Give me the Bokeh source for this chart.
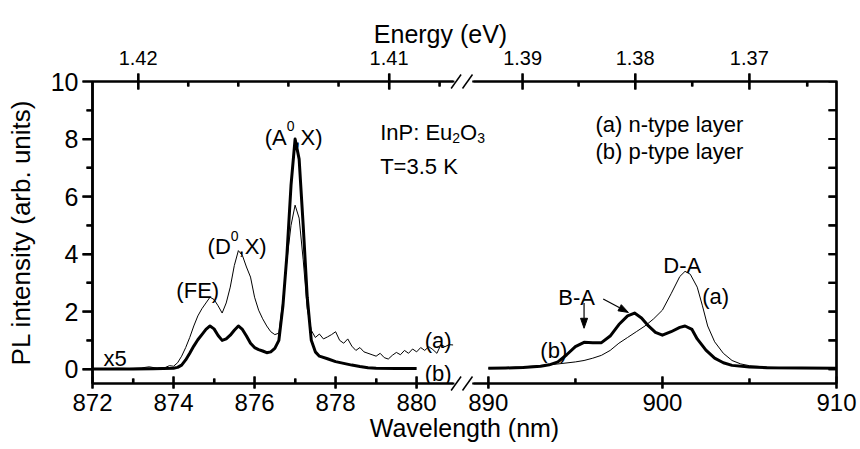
import numpy as np
from bokeh.plotting import figure
from bokeh.models import Range1d, LinearAxis, FixedTicker, Label
from bokeh.core.properties import value
from bokeh.embed import file_html
from bokeh.resources import INLINE

# ---------------- data ----------------
# left part (x5), curve (a) n-type, thin
wl_a_left = [872.0, 872.3, 872.6, 872.9, 873.2, 873.4, 873.6, 873.8, 873.9, 874.0,
             874.1, 874.2, 874.3, 874.4, 874.5, 874.6, 874.7, 874.8, 874.9, 875.0,
             875.1, 875.2, 875.3, 875.4, 875.5, 875.6, 875.7, 875.8, 875.9, 876.0,
             876.1, 876.2, 876.3, 876.4, 876.5, 876.6, 876.7, 876.8, 876.9, 877.0,
             877.1, 877.2, 877.3, 877.4, 877.5, 877.6, 877.7, 877.8, 877.9, 878.0,
             878.1, 878.2, 878.3, 878.4, 878.5, 878.6, 878.7, 878.8, 878.9, 879.0,
             879.1, 879.2, 879.3, 879.4, 879.5, 879.6, 879.7, 879.8, 879.9, 880.0,
             880.1, 880.2, 880.3, 880.4, 880.5, 880.6, 880.7, 880.8, 880.9]
int_a_left = [0.02, 0.01, 0.03, 0.02, 0.04, 0.08, 0.03, 0.06, 0.12, 0.10,
              0.22, 0.45, 0.75, 1.10, 1.50, 1.85, 2.10, 2.30, 2.50, 2.42,
              2.20, 1.95, 2.30, 2.85, 3.60, 4.12, 3.95, 3.55, 3.20, 2.50,
              2.05, 1.75, 1.50, 1.30, 1.20, 1.25, 2.40, 3.80, 5.00, 5.70,
              5.25, 3.80, 2.10, 1.35, 1.10, 1.22, 1.05, 1.12, 1.20, 1.30,
              1.00, 0.90, 1.05, 0.80, 0.65, 0.75, 0.60, 0.55, 0.50, 0.45,
              0.55, 0.40, 0.35, 0.48, 0.58, 0.50, 0.65, 0.55, 0.70, 0.60,
              0.75, 0.65, 0.78, 0.68, 0.55, 0.85, 0.78, 0.85, 0.84]
# left part (x5), curve (b) p-type, thick
wl_b_left = [872.0, 873.0, 873.5, 874.0, 874.1, 874.2, 874.3, 874.4, 874.5, 874.6,
             874.7, 874.8, 874.9, 875.0, 875.1, 875.2, 875.3, 875.4, 875.5, 875.6,
             875.7, 875.8, 875.9, 876.0, 876.1, 876.2, 876.3, 876.4, 876.5, 876.6,
             876.7, 876.8, 876.9, 877.0, 877.1, 877.2, 877.3, 877.4, 877.5, 877.6,
             877.8, 878.0, 878.2, 878.4, 878.6, 878.8, 879.0, 879.5, 880.0]
int_b_left = [0.00, 0.00, 0.01, 0.03, 0.06, 0.14, 0.32, 0.55, 0.80, 1.02,
              1.20, 1.38, 1.50, 1.40, 1.17, 1.00, 1.05, 1.18, 1.35, 1.50,
              1.38, 1.15, 0.90, 0.75, 0.68, 0.63, 0.57, 0.60, 0.72, 1.00,
              2.20, 4.00, 6.40, 8.00, 7.30, 5.00, 2.50, 1.00, 0.60, 0.45,
              0.36, 0.26, 0.20, 0.14, 0.09, 0.05, 0.03, 0.02, 0.02]
# right part, curve (a) n-type, thin
wl_a_right = [890, 891, 892, 893, 894, 895, 895.5, 896, 896.5, 897, 897.5, 898, 898.5,
              899, 899.5, 900, 900.5, 901, 901.3, 901.6, 902, 902.3, 902.6, 903,
              903.5, 904, 904.5, 905, 906, 907, 908, 909, 910]
int_a_right = [0.03, 0.05, 0.08, 0.12, 0.18, 0.25, 0.30, 0.38, 0.48, 0.65, 0.90, 1.10, 1.30,
               1.50, 1.75, 2.05, 2.62, 3.22, 3.40, 3.30, 2.85, 2.20, 1.50, 0.95,
               0.55, 0.30, 0.18, 0.12, 0.07, 0.05, 0.04, 0.03, 0.03]
# right part, curve (b) p-type, thick
wl_b_right = [890, 891, 892, 893, 893.5, 894, 894.5, 895, 895.5, 896, 896.5, 897, 897.5,
              898, 898.4, 898.8, 899.2, 899.6, 900, 900.5, 901, 901.3, 901.7, 902,
              902.5, 903, 903.5, 904, 905, 906, 908, 910]
int_b_right = [0.03, 0.04, 0.06, 0.10, 0.15, 0.25, 0.50, 0.78, 0.93, 0.92, 0.92, 1.15, 1.55,
               1.85, 1.95, 1.78, 1.50, 1.28, 1.18, 1.30, 1.45, 1.50, 1.38, 1.05,
               0.66, 0.38, 0.22, 0.13, 0.07, 0.05, 0.04, 0.03]

wl_major_left = [872, 874, 876, 878, 880]
wl_minor_left = [873, 875, 877, 879]
wl_major_right = [890, 900, 910]
wl_minor_right = [895, 905]
energy_major = [1.42, 1.41, 1.39, 1.38, 1.37]
energy_minor = [1.418, 1.416, 1.414, 1.412, 1.408, 1.385, 1.375, 1.365]
y_major = [0, 2, 4, 6, 8, 10]
y_minor = [1, 3, 5, 7, 9]
HC = 1239.84  # eV nm

# ---------------- broken wavelength axis ----------------
FRAME_W = 744
SEG_L = (872.0, 880.9)
SEG_R = (889.15, 910.0)
U_L = (0.0, 360.6)
U_R = (381.0, 744.0)
U_MID = (U_L[1] + U_R[0]) / 2


def xu(lam):
    lam = np.asarray(lam, dtype=float)
    left = U_L[0] + (lam - SEG_L[0]) * (U_L[1] - U_L[0]) / (SEG_L[1] - SEG_L[0])
    right = U_R[0] + (lam - SEG_R[0]) * (U_R[1] - U_R[0]) / (SEG_R[1] - SEG_R[0])
    return np.where(lam < (SEG_L[1] + SEG_R[0]) / 2, left, right)


def ticks(vals):
    return [round(float(v), 4) for v in np.atleast_1d(xu(vals))]


FONT = "Liberation Sans"
INK = "black"
Y0, Y1 = -0.5, 10.0
FRAME_H = 302
PX_Y = FRAME_H / (Y1 - Y0)
FRAME_LW = 2.2

# tick lengths in px: (in, out)
BOT_MAJ, BOT_MIN = (7, 5), (5, 0)
TOP_MAJ, TOP_MIN = (8, 8), (5, 0)
LEFT_MAJ, LEFT_MIN = (0, 10), (0, 6)
RIGHT_T = (8, 0)

p = figure(width=860, height=449, x_range=Range1d(0, FRAME_W), y_range=Range1d(Y0, Y1),
           output_backend="svg", toolbar_location=None,
           min_border_left=92, min_border_right=24, min_border_top=81, min_border_bottom=66,
           outline_line_color=INK, outline_line_width=FRAME_LW,
           background_fill_color="white", border_fill_color="white")
p.grid.visible = False

# curves
p.line(xu(wl_a_left), int_a_left, line_color=INK, line_width=1.0, line_join="round")
p.line(xu(wl_b_left), int_b_left, line_color=INK, line_width=3.0, line_join="round")
p.line(xu(wl_a_right), int_a_right, line_color=INK, line_width=1.0, line_join="round")
p.line(xu(wl_b_right), int_b_right, line_color=INK, line_width=3.0, line_join="round")

# right-side inward ticks
y_right = sorted(y_major + y_minor)
p.segment(x0=[FRAME_W - RIGHT_T[0]] * len(y_right), y0=y_right,
          x1=[FRAME_W - 0.5] * len(y_right), y1=y_right, line_color=INK, line_width=FRAME_LW)

# bottom axis (wavelength)
bx = p.below[0]
bmaj = ticks(wl_major_left + wl_major_right)
bmin = ticks(wl_minor_left + wl_minor_right)
bx.ticker = FixedTicker(ticks=bmaj, minor_ticks=bmin)
bx.major_label_overrides = {t: str(w) for t, w in zip(bmaj, wl_major_left + wl_major_right)}
bx.axis_label = "Wavelength (nm)"
bx.axis_label_text_font_size = "25px"
bx.axis_label_standoff = 0
bx.major_label_text_font_size = "24px"
bx.major_label_standoff = 5
bx.major_tick_in, bx.major_tick_out = BOT_MAJ
bx.minor_tick_in, bx.minor_tick_out = BOT_MIN

# left axis (intensity)
ly = p.left[0]
ly.ticker = FixedTicker(ticks=y_major, minor_ticks=y_minor)
ly.axis_label = "PL intensity (arb. units)"
ly.axis_label_text_font_size = "26px"
ly.axis_label_standoff = 12
ly.major_label_text_font_size = "25px"
ly.major_label_standoff = 4
ly.major_tick_in, ly.major_tick_out = LEFT_MAJ
ly.minor_tick_in, ly.minor_tick_out = LEFT_MIN

# top axis (energy)
tmaj = ticks([HC / e for e in energy_major])
tmin = ticks([HC / e for e in energy_minor])
top = LinearAxis(ticker=FixedTicker(ticks=tmaj, minor_ticks=tmin),
                 major_label_overrides={t: f"{e:.2f}" for t, e in zip(tmaj, energy_major)},
                 major_label_text_font_size="20px", major_label_standoff=9)
top.major_tick_in, top.major_tick_out = TOP_MAJ
top.minor_tick_in, top.minor_tick_out = TOP_MIN
p.add_layout(top, "above")

for ax in (bx, ly, top):
    ax.axis_line_color = None
    ax.major_tick_line_color = INK
    ax.minor_tick_line_color = INK
    ax.major_tick_line_width = 2
    ax.minor_tick_line_width = 2
    ax.major_label_text_color = INK
    ax.major_label_text_font = FONT
    ax.axis_label_text_color = INK
    ax.axis_label_text_font = FONT
    ax.axis_label_text_font_style = "normal"
ly.axis_line_color = INK
ly.axis_line_width = FRAME_LW


# ---- frame + ticks as two bracket-shaped paths (gaps at the axis break) ----
def hticks(us, yb, inward_sign, sizes):
    xs, ys = [], []
    for u, (tin, tout) in zip(us, sizes):
        xs += [u, u, u, u]
        ys += [yb, yb + inward_sign * tin / PX_Y, yb - inward_sign * tout / PX_Y, yb]
    return xs, ys


def merge(maj, mn, smaj, smin, keep, reverse=False):
    items = [(u, smaj) for u in maj if keep(u)] + [(u, smin) for u in mn if keep(u)]
    items.sort(key=lambda t: t[0], reverse=reverse)
    return [t[0] for t in items], [t[1] for t in items]


left_side = lambda u: u < U_MID
right_side = lambda u: u > U_MID

# left bracket
lx, lyy = [U_L[1]], [Y0]
us, sz = merge(bmaj, bmin, BOT_MAJ, BOT_MIN, left_side, reverse=True)
a, b = hticks(us, Y0, +1, sz); lx += a; lyy += b
lx.append(0); lyy.append(Y0)
yt = sorted([(v, LEFT_MAJ) for v in y_major] + [(v, LEFT_MIN) for v in y_minor])
for v, (tin, tout) in yt:
    lx += [0, -tout, 0]; lyy += [v, v, v]
lx.append(0); lyy.append(Y1)
us, sz = merge(tmaj, tmin, TOP_MAJ, TOP_MIN, left_side)
a, b = hticks(us, Y1, -1, sz); lx += a; lyy += b
lx.append(U_L[1]); lyy.append(Y1)

# right bracket
rx, ry = [U_R[0]], [Y0]
us, sz = merge(bmaj, bmin, BOT_MAJ, BOT_MIN, right_side)
a, b = hticks(us, Y0, +1, sz); rx += a; ry += b
rx.append(FRAME_W); ry.append(Y0)
for v in y_right:
    rx += [FRAME_W, FRAME_W - RIGHT_T[0], FRAME_W]; ry += [v, v, v]
rx.append(FRAME_W); ry.append(Y1)
us, sz = merge(tmaj, tmin, TOP_MAJ, TOP_MIN, right_side, reverse=True)
a, b = hticks(us, Y1, -1, sz); rx += a; ry += b
rx.append(U_R[0]); ry.append(Y1)

for xs, ys in ((lx, lyy), (rx, ry)):
    p.line(xs, ys, line_color=INK, line_width=FRAME_LW, line_join="miter", level="overlay")

# axis breaks: blank the frame in the gap, then draw the // marks
for yb in (Y0, Y1):
    p.quad(left=[U_L[1] + 1.3], right=[U_R[0] - 1.3], bottom=[yb - 3 / PX_Y],
           top=[yb + 3 / PX_Y], fill_color="white", line_color=None, level="overlay")
for yb in (Y0, Y1):
    for uc in (U_L[1] + 3, U_R[0] - 6):
        p.line([uc - 5, uc + 5], [yb - 7 / PX_Y, yb + 7 / PX_Y],
               line_color=INK, line_width=1.5, level="overlay")

# Energy title (over the top axis)
p.text(x=[348], y=[Y1 + (81 - 33) / PX_Y], text=["Energy (eV)"], text_align="center",
       text_baseline="alphabetic", text_font=value(FONT), text_font_size="25px",
       text_color=INK, level="overlay")

# ---------------- annotations ----------------
CW = {"(": .333, ")": .333, "A": .667, "X": .667, ",": .278, "D": .722, "E": .667,
      "u": .556, "I": .278, "n": .556, "P": .667, ":": .278, " ": .278, "O": .778}


def twidth(s, size):
    return sum(CW.get(c, .556) for c in s) * size


def rich(lam, inten, pieces):
    off = 0.0
    for txt, size, dy in pieces:
        p.add_layout(Label(x=float(xu(lam)), y=inten, text=txt, x_offset=off, y_offset=dy,
                           text_font=FONT, text_font_size=f"{size}px", text_align="left",
                           text_baseline="alphabetic", text_color=INK))
        off += twidth(txt, size)


A = 22
S = 14
rich(874.07, 2.75, [("(FE)", A, 0)])
rich(874.84, 4.25, [("(D", A, 0), ("0", S, 11), (",X)", A, 0)])
rich(876.25, 8.05, [("(A", A, 0), ("0", S, 12), (",X)", A, 0)])
rich(879.1, 8.22, [("InP: Eu", A, 0), ("2", S, -5), ("O", A, 0), ("3", S, -5)])
rich(879.1, 7.04, [("T=3.5 K", A, 0)])
rich(872.27, 0.38, [("x5", A, 0)])
rich(880.2, 0.98, [("(a)", A, 0)])
rich(880.2, -0.14, [("(b)", A, 0)])
rich(892.99, 0.66, [("(b)", A, 0)])
rich(902.29, 2.54, [("(a)", A, 0)])
rich(900.05, 3.62, [("D-A", A, 0)])
rich(894.02, 2.5, [("B-A", A, 0)])

for txt, inten in (("(a) n-type layer", 8.5), ("(b) p-type layer", 7.56)):
    p.add_layout(Label(x=float(xu(900.4)), y=inten, text=txt, text_align="center",
                       text_baseline="alphabetic", text_font=FONT, text_font_size=f"{A}px",
                       text_color=INK))


# arrows (shaft + filled head), head sized in screen pixels
def arrow(lam0, i0, lam1, i1, head_len=10, head_half=3.5):
    x0, x1 = float(xu(lam0)), float(xu(lam1))
    dx, dy = x1 - x0, (i1 - i0) * PX_Y
    n = (dx * dx + dy * dy) ** 0.5
    ux, uy = dx / n, dy / n
    bxp, byp = x1 - ux * head_len, (i1 * PX_Y - uy * head_len)
    px_, py_ = -uy * head_half, ux * head_half
    p.line([x0, bxp], [i0, byp / PX_Y], line_color=INK, line_width=1.2)
    p.patch([x1, bxp + px_, bxp - px_], [i1, (byp + py_) / PX_Y, (byp - py_) / PX_Y],
            fill_color=INK, line_color=INK, line_width=1)


arrow(895.5, 2.3, 895.5, 1.42)
arrow(896.6, 2.44, 898.05, 1.97)

open("out.html", "w").write(file_html(p, INLINE))
